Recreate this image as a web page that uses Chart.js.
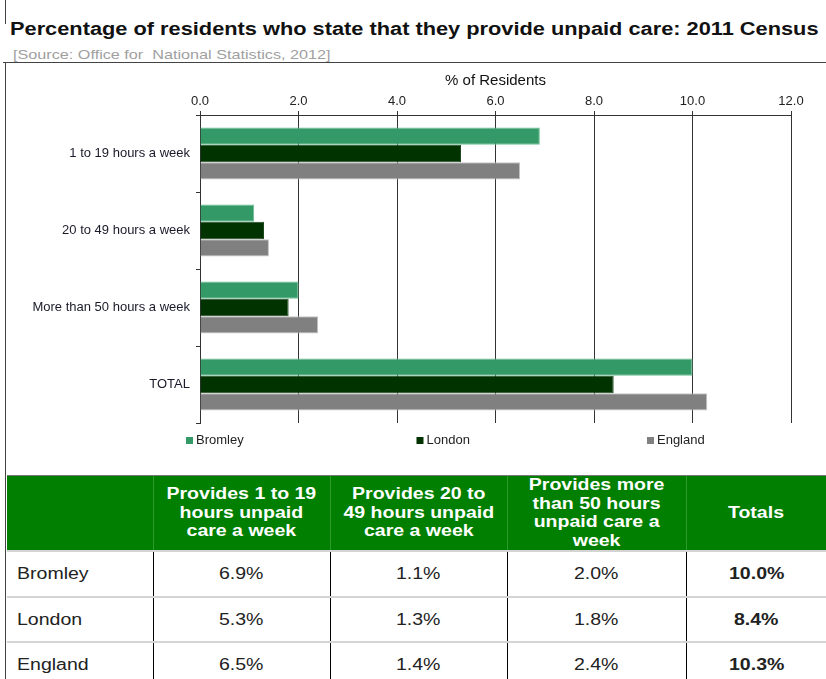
<!DOCTYPE html>
<html>
<head>
<meta charset="utf-8">
<script src="https://cdn.jsdelivr.net/npm/chart.js@4.4.1/dist/chart.umd.min.js"></script>
<style>
  body { margin: 0; background: #fff; font-family: "Liberation Sans", Arial, sans-serif; }
  #page { position: relative; width: 826px; height: 679px; overflow: hidden; }
  .wide { display: inline-block; transform: scaleX(1.22); transform-origin: center; }
  #title { position: absolute; left: 10px; top: 19px; font-size: 18px; font-weight: bold; color: #111; white-space: nowrap; transform: scaleX(1.21); transform-origin: left; }
  #source { position: absolute; left: 13px; top: 47px; font-size: 13.5px; color: #a0a0a0; white-space: pre; transform: scaleX(1.2); transform-origin: left; }
  .line { position: absolute; background: #444; }
  #chartWrap { position: absolute; left: 7px; top: 63px; width: 819px; height: 412px; }
  #tbl { position: absolute; left: 7px; top: 475px; width: 819px; border-collapse: collapse; table-layout: fixed; }
  #tbl th { background: #007f00; color: #fff; font-size: 16px; font-weight: bold; line-height: 18.5px; height: 74px; padding: 0; text-align: center; border-left: 1px solid #2e9a2e; border-top: 1px solid #777; }
  #tbl td { font-size: 16px; color: #222; text-align: center; padding: 0; border-left: 1px solid #000; border-top: 2px solid #d4d4d4; }
  #tbl td.name { text-align: left; padding-left: 10px; border-left: none; }
  #tbl td.name .wide { transform-origin: left; }
  #tbl td.tot { font-weight: bold; }
</style>
</head>
<body>
<div id="page">
  <div class="line" style="left:5px;top:0;width:1px;height:24px"></div>
  <div id="title">Percentage of residents who state that they provide unpaid care: 2011 Census</div>
  <div id="source">[Source: Office for  National Statistics, 2012]</div>
  <div class="line" style="left:3px;top:62px;width:823px;height:1px"></div>
  <div class="line" style="left:5px;top:62px;width:1px;height:617px"></div>
  <div id="chartWrap"><canvas id="myChart" width="819" height="412"></canvas></div>
  <table id="tbl">
    <colgroup><col style="width:146px"><col style="width:177px"><col style="width:177px"><col style="width:179px"><col style="width:140px"></colgroup>
    <thead>
      <tr>
        <th style="border-left:none"></th>
        <th><span class="wide">Provides 1 to 19<br>hours unpaid<br>care a week</span></th>
        <th><span class="wide">Provides 20 to<br>49 hours unpaid<br>care a week</span></th>
        <th><span class="wide">Provides more<br>than 50 hours<br>unpaid care a<br>week</span></th>
        <th><span class="wide">Totals</span></th>
      </tr>
    </thead>
    <tbody id="tbody"></tbody>
  </table>
</div>

<script>
var categories = ['1 to 19 hours a week', '20 to 49 hours a week', 'More than 50 hours a week', 'TOTAL'];
var seriesNames = ['Bromley', 'London', 'England'];
var bromley = [6.9, 1.1, 2.0, 10.0];
var london = [5.3, 1.3, 1.8, 8.4];
var england = [6.5, 1.4, 2.4, 10.3];
var rowHeights = [46, 45, 45];

var FONT = '"Liberation Sans", Arial, sans-serif';

// table below the chart, built from the same arrays
var allSeries = [bromley, london, england];
var tbody = document.getElementById('tbody');
function wideCell(text, cls) {
    var c = document.createElement('td');
    if (cls) c.className = cls;
    var s = document.createElement('span');
    s.className = 'wide';
    s.textContent = text;
    c.appendChild(s);
    return c;
}
allSeries.forEach(function(vals, i) {
    var tr = document.createElement('tr');
    tr.style.height = rowHeights[i] + 'px';
    tr.appendChild(wideCell(seriesNames[i], 'name'));
    vals.forEach(function(v, j) {
        tr.appendChild(wideCell(v.toFixed(1) + '%', j === vals.length - 1 ? 'tot' : ''));
    });
    tbody.appendChild(tr);
});

// legend drawn under the plot, spread out like the original
var spreadLegend = {
    id: 'spreadLegend',
    afterDraw: function(chart) {
        var ctx = chart.ctx;
        var area = chart.chartArea;
        var step = (area.right - area.left) * 0.39;
        ctx.save();
        ctx.font = '13px ' + FONT;
        ctx.textBaseline = 'middle';
        chart.data.datasets.forEach(function(ds, i) {
            var x = area.left - 14 + i * step;
            var y = area.bottom + 17;
            ctx.fillStyle = ds.backgroundColor;
            ctx.fillRect(x, y - 3, 7, 7);
            ctx.fillStyle = '#222';
            ctx.fillText(ds.label, x + 10, y + 0.5);
        });
        ctx.restore();
    }
};

var ctx = document.getElementById('myChart').getContext('2d');
var myChart = new Chart(ctx, {
    type: 'bar',
    data: {
        labels: categories,
        datasets: [
            { label: seriesNames[0], data: bromley, backgroundColor: '#339966', borderColor: '#6cbf95', borderWidth: 1 },
            { label: seriesNames[1], data: london, backgroundColor: '#003300', borderColor: '#1f4a1f', borderWidth: 1 },
            { label: seriesNames[2], data: england, backgroundColor: '#808080', borderColor: '#c4c4c4', borderWidth: 1 }
        ]
    },
    options: {
        indexAxis: 'y',
        responsive: false,
        animation: false,
        layout: { padding: { left: 0, top: 0, right: 35, bottom: 52 } },
        categoryPercentage: 0.675,
        barPercentage: 1.0,
        plugins: {
            legend: { display: false },
            tooltip: { enabled: false }
        },
        scales: {
            x: {
                position: 'top',
                min: 0,
                max: 12,
                ticks: {
                    stepSize: 2,
                    color: '#222',
                    font: { size: 13, family: FONT },
                    padding: 2,
                    callback: function(v) { return v.toFixed(1); }
                },
                grid: { color: '#333', lineWidth: 1, tickLength: 4 },
                border: { display: true, color: '#333' },
                title: {
                    display: true,
                    text: '% of Residents',
                    color: '#111',
                    font: { size: 15, family: FONT },
                    padding: { top: 9, bottom: 0 }
                },
                afterFit: function(s) { s.height = 52; }
            },
            y: {
                ticks: {
                    color: '#1a1a2a',
                    font: { size: 13, family: FONT },
                    padding: 6
                },
                grid: { drawOnChartArea: false, color: '#333', tickLength: 4 },
                border: { display: true, color: '#333' },
                afterFit: function(s) { s.width = 193; }
            }
        }
    },
    plugins: [spreadLegend]
});
</script>
</body>
</html>
